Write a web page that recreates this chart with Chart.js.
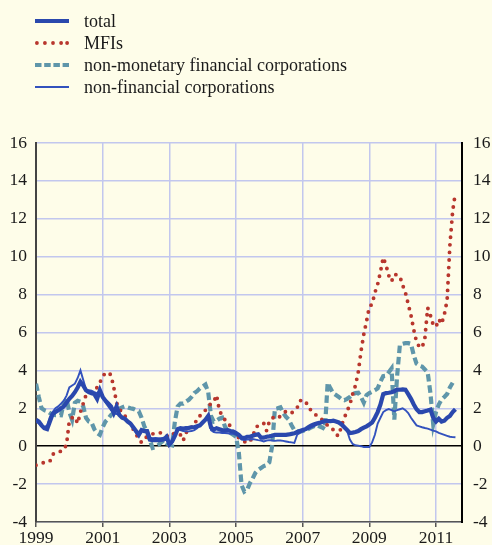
<!DOCTYPE html>
<html><head><meta charset="utf-8">
<script src="https://cdn.jsdelivr.net/npm/chart.js@4.4.1/dist/chart.umd.min.js"></script>
<style>
html,body{margin:0;padding:0;background:#fefde9;}
#wrap{position:relative;width:492px;height:545px;overflow:hidden;}
#c{position:absolute;left:0;top:0;}
.row{position:absolute;left:35px;height:22px;display:flex;align-items:center;white-space:nowrap;
 font-family:"Liberation Serif","Times New Roman",serif;font-size:18px;color:#1a1a1a;}
.row svg{width:34px;height:10px;margin-right:15px;flex:none;}
</style></head>
<body><div id="wrap">
<canvas id="c" width="492" height="545"></canvas>
<div class="row" style="top:10px"><svg viewBox="0 0 34 10"><line x1="0" y1="5" x2="34" y2="5" stroke="#2a48ad" stroke-width="3.8"/></svg><span>total</span></div>
<div class="row" style="top:32px"><svg viewBox="0 0 34 10"><g fill="#b8362d"><circle cx="1.9" cy="5" r="1.9"/><circle cx="9.9" cy="5" r="1.9"/><circle cx="18" cy="5" r="1.9"/><circle cx="26.1" cy="5" r="1.9"/><circle cx="32.1" cy="5" r="1.9"/></g></svg><span>MFIs</span></div>
<div class="row" style="top:54px"><svg viewBox="0 0 34 10"><line x1="0" y1="5" x2="34" y2="5" stroke="#5f96aa" stroke-width="3.8" stroke-dasharray="6.5 2.7"/></svg><span>non-monetary financial corporations</span></div>
<div class="row" style="top:76px"><svg viewBox="0 0 34 10"><line x1="0" y1="5" x2="34" y2="5" stroke="#3352bd" stroke-width="2"/></svg><span>non-financial corporations</span></div>
</div>
<script>
// monthly categories Jan 1999 .. Aug 2011
const months = [];
for (let y = 1999; y <= 2011; y++) for (let m = 1; m <= 12; m++) { if (y === 2011 && m > 8) break; months.push(y + '-' + String(m).padStart(2, '0')); }

const yearTicks = [1999, 2001, 2003, 2005, 2007, 2009, 2011];
const valueTicks = [-4, -2, 0, 2, 4, 6, 8, 10, 12, 14, 16];

const total = [
 1.4,1.3,1.1,0.95,0.9,1.3,1.7,1.8,1.9,2.0,2.1,2.3,
 2.5,2.65,2.85,3.1,3.4,3.2,2.95,2.85,2.8,2.75,2.5,2.95,
 2.6,2.4,2.25,2.1,1.75,2.1,1.65,1.5,1.45,1.3,1.2,1.0,
 0.8,0.6,0.85,0.8,0.8,0.35,0.32,0.33,0.32,0.33,0.35,0.5,
 0.1,0.25,0.55,0.9,0.95,0.93,0.95,0.97,1.0,1.0,1.05,1.1,
 1.25,1.4,1.6,1.0,0.88,0.95,0.9,0.85,0.83,0.85,0.8,0.78,
 0.7,0.6,0.45,0.43,0.5,0.5,0.55,0.6,0.63,0.45,0.45,0.5,
 0.52,0.55,0.6,0.6,0.6,0.6,0.6,0.62,0.65,0.68,0.75,0.8,
 0.85,0.9,1.0,1.08,1.15,1.2,1.23,1.28,1.33,1.33,1.32,1.35,
 1.3,1.25,1.15,1.0,0.85,0.7,0.72,0.75,0.8,0.9,0.98,1.05,
 1.15,1.25,1.5,1.8,2.2,2.75,2.8,2.82,2.85,2.9,3.0,2.98,
 3.0,2.98,2.75,2.5,2.2,1.95,1.8,1.8,1.84,1.88,1.93,1.5,
 1.3,1.45,1.3,1.35,1.5,1.6,1.8,1.95
];
const mfis = [
 -1.0,-0.95,-0.9,-0.86,-0.83,-0.8,-0.42,-0.4,-0.35,-0.25,-0.2,0.1,
 1.35,1.5,1.55,1.2,1.8,2.25,2.7,2.75,2.8,2.9,3.1,3.35,
 3.7,3.85,3.9,3.75,3.1,2.3,1.95,1.8,1.6,1.4,1.15,0.9,
 0.65,0.35,0.2,0.4,0.5,0.6,0.65,0.68,0.72,0.7,0.6,0.55,
 0.5,0.6,0.7,0.7,0.6,0.3,0.7,0.95,1.0,1.07,1.5,1.6,
 1.72,1.9,2.1,2.25,2.35,2.7,1.9,1.6,1.4,1.25,1.05,0.8,
 0.6,0.45,0.35,0.25,0.17,0.25,0.5,0.95,1.1,1.2,1.2,0.82,
 1.3,1.5,1.5,1.45,1.6,1.7,1.85,1.8,1.75,1.9,2.02,2.4,
 2.42,2.4,2.05,1.9,1.75,1.62,1.5,1.4,1.3,1.08,0.95,0.87,
 0.6,0.55,1.1,1.5,1.85,2.2,2.75,3.2,3.9,5.0,5.9,6.6,
 7.35,7.5,8.1,8.55,9.2,9.95,9.56,9.0,8.7,9.07,9.04,8.95,
 8.5,8.1,7.5,6.9,6.14,5.5,5.25,5.2,5.7,7.3,6.9,6.4,
 6.3,6.7,6.45,6.95,7.7,10.6,12.4,13.4
];
const nonMonetary = [
 3.3,2.6,2.0,1.9,1.85,1.75,1.68,1.64,1.64,1.63,2.3,2.5,
 1.8,1.4,2.3,2.4,2.35,2.1,1.5,1.3,1.25,0.9,0.7,0.6,
 1.0,1.3,1.45,1.65,1.75,1.85,1.97,2.05,2.1,2.05,2.0,1.97,
 1.9,1.85,1.5,1.05,0.75,0.3,-0.09,-0.05,0.05,0.2,0.3,0.15,
 0.09,0.05,1.3,2.1,2.25,2.25,2.35,2.45,2.6,2.8,2.9,3.05,
 3.15,3.25,2.85,1.6,1.3,1.35,1.45,1.5,1.05,0.8,0.7,0.6,
 0.5,-0.3,-2.05,-2.4,-2.3,-1.95,-1.7,-1.4,-1.25,-1.15,-1.05,-1.0,
 -0.85,0.0,1.97,2.0,2.05,1.75,1.55,1.4,1.11,0.85,0.8,0.77,
 0.8,0.85,0.9,0.99,1.05,1.11,1.05,0.99,0.9,3.35,3.05,2.8,
 2.7,2.6,2.48,2.43,2.5,2.6,2.75,2.8,2.82,2.6,2.3,2.7,
 2.8,2.87,2.95,3.05,3.4,3.7,3.72,3.9,4.1,1.4,3.7,5.35,
 5.4,5.44,5.44,5.4,4.8,4.35,4.25,4.2,4.05,3.9,2.8,1.15,
 1.8,2.2,2.46,2.6,2.75,3.1,3.35,null
];
const nonFinancial = [
 1.3,1.2,1.05,1.0,1.1,1.55,1.8,2.0,2.1,2.25,2.4,2.67,
 3.1,3.2,3.3,3.6,4.0,3.5,3.0,2.95,2.93,2.85,2.8,2.95,
 2.7,2.3,2.1,1.9,1.75,1.7,1.64,1.5,1.4,1.3,1.15,1.0,
 0.7,0.65,0.8,0.78,0.75,0.45,0.42,0.43,0.42,0.42,0.45,0.4,
 0.05,0.2,0.6,0.95,0.85,0.8,0.78,0.78,0.8,0.85,0.95,1.1,
 1.3,1.45,1.5,0.85,0.75,0.72,0.72,0.7,0.7,0.68,0.66,0.65,
 0.6,0.55,0.35,0.33,0.35,0.35,0.38,0.35,0.32,0.3,0.25,0.3,
 0.32,0.3,0.28,0.3,0.3,0.28,0.25,0.22,0.2,0.17,0.6,0.7,
 0.78,0.85,0.9,0.98,1.05,1.12,1.2,1.28,1.33,1.37,1.38,1.35,
 1.3,1.25,1.2,1.05,0.8,0.35,0.12,0.05,0.03,0.0,-0.04,-0.04,
 -0.04,0.2,0.6,1.2,1.5,1.8,1.9,1.96,1.9,1.84,1.9,1.95,
 2.0,1.9,1.75,1.5,1.3,1.1,1.05,1.0,0.96,0.93,0.88,0.82,
 0.78,0.7,0.65,0.6,0.55,0.5,0.48,0.47
];

const xs = months.map(s => { const [y, m] = s.split('-').map(Number); return y + (m - 1) / 12; });
const pts = arr => arr.map((v, i) => ({ x: xs[i], y: v }));

const gridCol = '#c2c7ee';
const tickFont = { family: '"Liberation Serif","Times New Roman",serif', size: 17.5 };

new Chart(document.getElementById('c'), {
  type: 'line',
  data: {
    datasets: [
      { label: 'total', data: pts(total), borderColor: '#2a48ad', borderWidth: 4.2, pointRadius: 0, tension: 0, order: 0 },
      { label: 'non-financial corporations', data: pts(nonFinancial), borderColor: '#3352bd', borderWidth: 1.9, pointRadius: 0, tension: 0, order: 1 },
      { label: 'MFIs', data: pts(mfis), borderColor: '#b8362d', borderWidth: 3.9, borderDash: [0, 7.6], borderCapStyle: 'round', pointRadius: 0, tension: 0, order: 2 },
      { label: 'non-monetary financial corporations', data: pts(nonMonetary), borderColor: '#5f96aa', borderWidth: 4.2, borderDash: [7.5, 3.8], borderCapStyle: 'butt', pointRadius: 0, tension: 0, order: 3 }
    ]
  },
  options: {
    responsive: false, animation: false, devicePixelRatio: 1,
    layout: { padding: { top: 143, right: 0, left: 0, bottom: 0 } },
    plugins: { legend: { display: false }, tooltip: { enabled: false } },
    scales: {
      x: {
        type: 'linear', min: 1999, max: 2011.78,
        afterBuildTicks: a => { a.ticks = yearTicks.map(v => ({ value: v })); },
        afterFit: s => { s.height = 23; },
        grid: { color: c => (c.tick && c.tick.value === 1999) ? 'rgba(0,0,0,0)' : gridCol, lineWidth: 1.5, tickColor: '#555', tickLength: 5, drawTicks: true },
        border: { color: '#555', width: 1.5 },
        ticks: { font: tickFont, color: '#1a1a1a', padding: 1, maxRotation: 0, autoSkip: false, callback: v => String(v) }
      },
      y: {
        position: 'left', min: -4, max: 16,
        afterBuildTicks: a => { a.ticks = valueTicks.map(v => ({ value: v })); },
        afterFit: s => { s.width = 36; },
        grid: { color: c => (c.tick && c.tick.value === 0) ? '#000' : gridCol, lineWidth: 1.5, drawTicks: false },
        border: { color: '#444', width: 2 },
        ticks: { font: tickFont, color: '#1a1a1a', padding: 9 }
      },
      y2: {
        position: 'right', min: -4, max: 16,
        afterBuildTicks: a => { a.ticks = valueTicks.map(v => ({ value: v })); },
        afterFit: s => { s.width = 30; },
        grid: { display: false, drawTicks: false },
        border: { color: '#000', width: 2 },
        ticks: { font: tickFont, color: '#1a1a1a', padding: 11 }
      }
    }
  }
});
</script>
</body></html>
